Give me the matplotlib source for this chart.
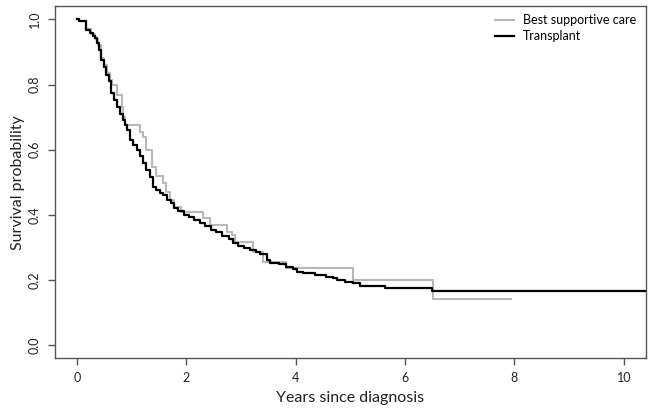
import matplotlib
matplotlib.use("Agg")
import matplotlib.pyplot as plt

plt.rcParams['font.family'] = ['Lato', 'DejaVu Sans']

# Transplant (black) Kaplan-Meier steps: time (years), survival after step
tx_time = [0.00, 0.03, 0.16, 0.24, 0.30, 0.33, 0.36, 0.40, 0.45, 0.50, 0.54, 0.58,
           0.63, 0.68, 0.725, 0.78, 0.84, 0.88, 0.91, 0.97, 1.03, 1.10, 1.15, 1.21,
           1.27, 1.33, 1.39, 1.45, 1.52, 1.57, 1.64, 1.73, 1.78, 1.85, 1.95, 2.05,
           2.15, 2.25, 2.35, 2.45, 2.55, 2.65, 2.78, 2.86, 2.95, 3.05, 3.16, 3.28,
           3.35, 3.47, 3.53, 3.70, 3.83, 3.95, 4.02, 4.13, 4.35, 4.56, 4.68, 4.75,
           4.90, 5.05, 5.17, 5.63, 6.50, 10.6]
tx_surv = [1.000, 0.995, 0.967, 0.958, 0.950, 0.943, 0.926, 0.905, 0.875, 0.855, 0.830, 0.810,
           0.773, 0.752, 0.732, 0.710, 0.690, 0.675, 0.660, 0.630, 0.615, 0.600, 0.580, 0.560,
           0.538, 0.515, 0.486, 0.475, 0.468, 0.460, 0.445, 0.436, 0.420, 0.412, 0.400, 0.395,
           0.385, 0.375, 0.365, 0.355, 0.348, 0.335, 0.325, 0.315, 0.305, 0.298, 0.292, 0.285,
           0.280, 0.262, 0.251, 0.248, 0.241, 0.235, 0.226, 0.221, 0.215, 0.210, 0.205, 0.200,
           0.195, 0.190, 0.182, 0.175, 0.168, 0.168]

# Best supportive care (grey) Kaplan-Meier steps
bsc_time = [0.00, 0.03, 0.16, 0.25, 0.33, 0.38, 0.45, 0.50, 0.55, 0.60, 0.64, 0.73,
            0.82, 0.85, 0.88, 1.15, 1.21, 1.27, 1.37, 1.44, 1.57, 1.63, 1.71, 1.78,
            1.91, 2.31, 2.43, 2.74, 2.83, 2.89, 3.22, 3.40, 3.83, 5.04, 6.51, 7.93]
bsc_surv = [1.000, 0.995, 0.970, 0.955, 0.940, 0.920, 0.880, 0.860, 0.834, 0.815, 0.800, 0.768,
            0.730, 0.700, 0.676, 0.655, 0.640, 0.600, 0.548, 0.520, 0.497, 0.471, 0.446, 0.425,
            0.410, 0.390, 0.369, 0.348, 0.338, 0.318, 0.287, 0.256, 0.236, 0.200, 0.142, 0.142]

labels = ["Best supportive care", "Transplant"]
x_ticks = [0, 2, 4, 6, 8, 10]
y_ticks = [0.0, 0.2, 0.4, 0.6, 0.8, 1.0]

fig = plt.figure(figsize=(6.53, 4.12), dpi=100)
ax = fig.add_axes([55/653, 1-358.3/412, 590.7/653, 352/412])

ax.step(bsc_time, bsc_surv, where='post', color='#b8b8b8', lw=1.5, label=labels[0])
ax.step(tx_time, tx_surv, where='post', color='black', lw=1.6, label=labels[1])

ax.set_xlim(-0.4, 10.4)
ax.set_ylim(-0.04, 1.04)
ax.set_xticks(x_ticks)
ax.set_xticklabels([str(t) for t in x_ticks])
ax.set_yticks(y_ticks)
ax.set_yticklabels([f"{t:.1f}" for t in y_ticks], rotation=90, va='center')

for s in ax.spines.values():
    s.set_color('#555555')
    s.set_linewidth(1.0)
ax.tick_params(axis='both', colors='#555555', labelcolor='#222222', length=5,
               width=1.0, labelsize=9, pad=5)

ax.set_xlabel("Years since diagnosis", fontsize=11.5, color='#222222', labelpad=5)
ax.set_ylabel("Survival probability", fontsize=11.5, color='#222222', labelpad=3)

ax.legend(loc='upper left', bbox_to_anchor=(0.745, 0.978), frameon=False,
          fontsize=9, borderpad=0, borderaxespad=0, labelspacing=0.35,
          handlelength=1.5, handletextpad=0.75)

fig.savefig("out.png", dpi=100)
